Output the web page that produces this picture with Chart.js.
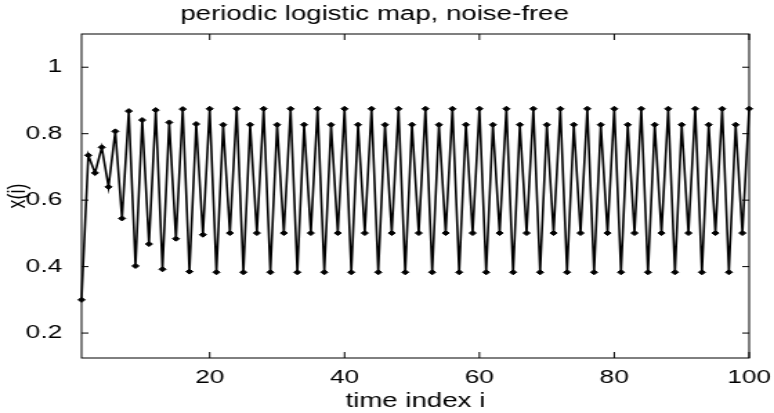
<!DOCTYPE html>
<html>
<head>
    <meta charset="utf-8"/>
    <title>periodic logistic map, noise-free</title>
    <script src="https://cdn.jsdelivr.net/npm/chart.js"></script>
    <style>
        body {
            margin: 0;
            background-color: #ffffff;
        }

        #logisticChart {
            display: block;
        }
    </style>
</head>
<body>
    <!-- drawn 560 wide and stretched sideways to 774, like the original picture -->
    <canvas id="logisticChart" width="560" height="413" style="width:774px;height:413px"></canvas>

    <script>
        // time index i = 1..100
        const timeIndex = Array.from({ length: 100 }, (_, k) => k + 1);

        // x(i) (transient, then the 4-cycle)
        const xValues = [
            0.300, 0.735, 0.682, 0.759, 0.640, 0.807, 0.545, 0.868, 0.402, 0.841,
            0.468, 0.871, 0.392, 0.834, 0.484, 0.874, 0.385, 0.829, 0.496, 0.875,
            0.383, 0.827, 0.501, 0.875, 0.383, 0.827, 0.501, 0.875, 0.383, 0.827,
            0.501, 0.875, 0.383, 0.827, 0.501, 0.875, 0.383, 0.827, 0.501, 0.875,
            0.383, 0.827, 0.501, 0.875, 0.383, 0.827, 0.501, 0.875, 0.383, 0.827,
            0.501, 0.875, 0.383, 0.827, 0.501, 0.875, 0.383, 0.827, 0.501, 0.875,
            0.383, 0.827, 0.501, 0.875, 0.383, 0.827, 0.501, 0.875, 0.383, 0.827,
            0.501, 0.875, 0.383, 0.827, 0.501, 0.875, 0.383, 0.827, 0.501, 0.875,
            0.383, 0.827, 0.501, 0.875, 0.383, 0.827, 0.501, 0.875, 0.383, 0.827,
            0.501, 0.875, 0.383, 0.827, 0.501, 0.875, 0.383, 0.827, 0.501, 0.875
        ];

        const xTicks = [20, 40, 60, 80, 100];
        const yTicks = [0.2, 0.4, 0.6, 0.8, 1];

        const fontFamily = '"Liberation Sans", Arial, Helvetica, sans-serif';

        // box round the axes and small inward ticks on all four sides
        const frameTicks = {
            id: 'frameTicks',
            afterDatasetsDraw(chart) {
                const { ctx, chartArea: a, scales: { x, y } } = chart;
                ctx.save();
                ctx.strokeStyle = '#000';
                ctx.lineWidth = 1;
                ctx.strokeRect(a.left, a.top, a.right - a.left, a.bottom - a.top);
                ctx.beginPath();
                xTicks.forEach(v => {
                    const px = x.getPixelForValue(v);
                    ctx.moveTo(px, a.bottom);
                    ctx.lineTo(px, a.bottom - 6);
                    ctx.moveTo(px, a.top);
                    ctx.lineTo(px, a.top + 6);
                });
                yTicks.forEach(v => {
                    const py = y.getPixelForValue(v);
                    ctx.moveTo(a.left, py);
                    ctx.lineTo(a.left + 5, py);
                    ctx.moveTo(a.right, py);
                    ctx.lineTo(a.right - 5, py);
                });
                ctx.stroke();
                ctx.restore();
            }
        };

        const ctx = document.getElementById('logisticChart').getContext('2d');
        new Chart(ctx, {
            type: 'line',
            data: {
                labels: timeIndex,
                datasets: [{
                    data: timeIndex.map((t, k) => ({ x: t, y: xValues[k] })),
                    borderColor: '#000',
                    borderWidth: 1.6,
                    backgroundColor: '#000',
                    pointStyle: 'rectRot',
                    pointRadius: 2.5,
                    pointBorderWidth: 1,
                    pointBackgroundColor: '#000',
                    pointBorderColor: '#000',
                    tension: 0,
                    clip: false
                }]
            },
            options: {
                responsive: false,
                animation: false,
                layout: {
                    padding: { left: 0, right: 18, top: 0, bottom: 0 }
                },
                plugins: {
                    legend: { display: false },
                    tooltip: { enabled: false },
                    title: {
                        display: true,
                        text: 'periodic logistic map, noise-free',
                        color: '#000',
                        font: { family: fontFamily, size: 20, weight: 'normal' },
                        padding: { top: 2, bottom: 8 }
                    }
                },
                scales: {
                    x: {
                        type: 'linear',
                        min: 1,
                        max: 100,
                        grid: { display: false },
                        border: { display: false },
                        afterBuildTicks: s => { s.ticks = xTicks.map(v => ({ value: v })); },
                        afterFit: s => { s.height = 55; },
                        ticks: {
                            color: '#000',
                            padding: 0,
                            maxRotation: 0,
                            font: { family: fontFamily, size: 19 },
                            callback: v => String(v)
                        },
                        title: {
                            display: true,
                            text: 'time index i',
                            color: '#000',
                            font: { family: fontFamily, size: 20 },
                            padding: { top: 0, bottom: 0 }
                        }
                    },
                    y: {
                        min: 0.125,
                        max: 1.1,
                        grid: { display: false },
                        border: { display: false },
                        afterBuildTicks: s => { s.ticks = yTicks.map(v => ({ value: v })); },
                        afterFit: s => { s.width = 59; },
                        ticks: {
                            color: '#000',
                            padding: 6,
                            font: { family: fontFamily, size: 19 },
                            callback: v => String(v)
                        },
                        title: {
                            display: true,
                            text: 'x(i)',
                            color: '#000',
                            font: { family: fontFamily, size: 18 },
                            padding: { top: 2, bottom: 0 }
                        }
                    }
                }
            },
            plugins: [frameTicks]
        });
    </script>
</body>
</html>
